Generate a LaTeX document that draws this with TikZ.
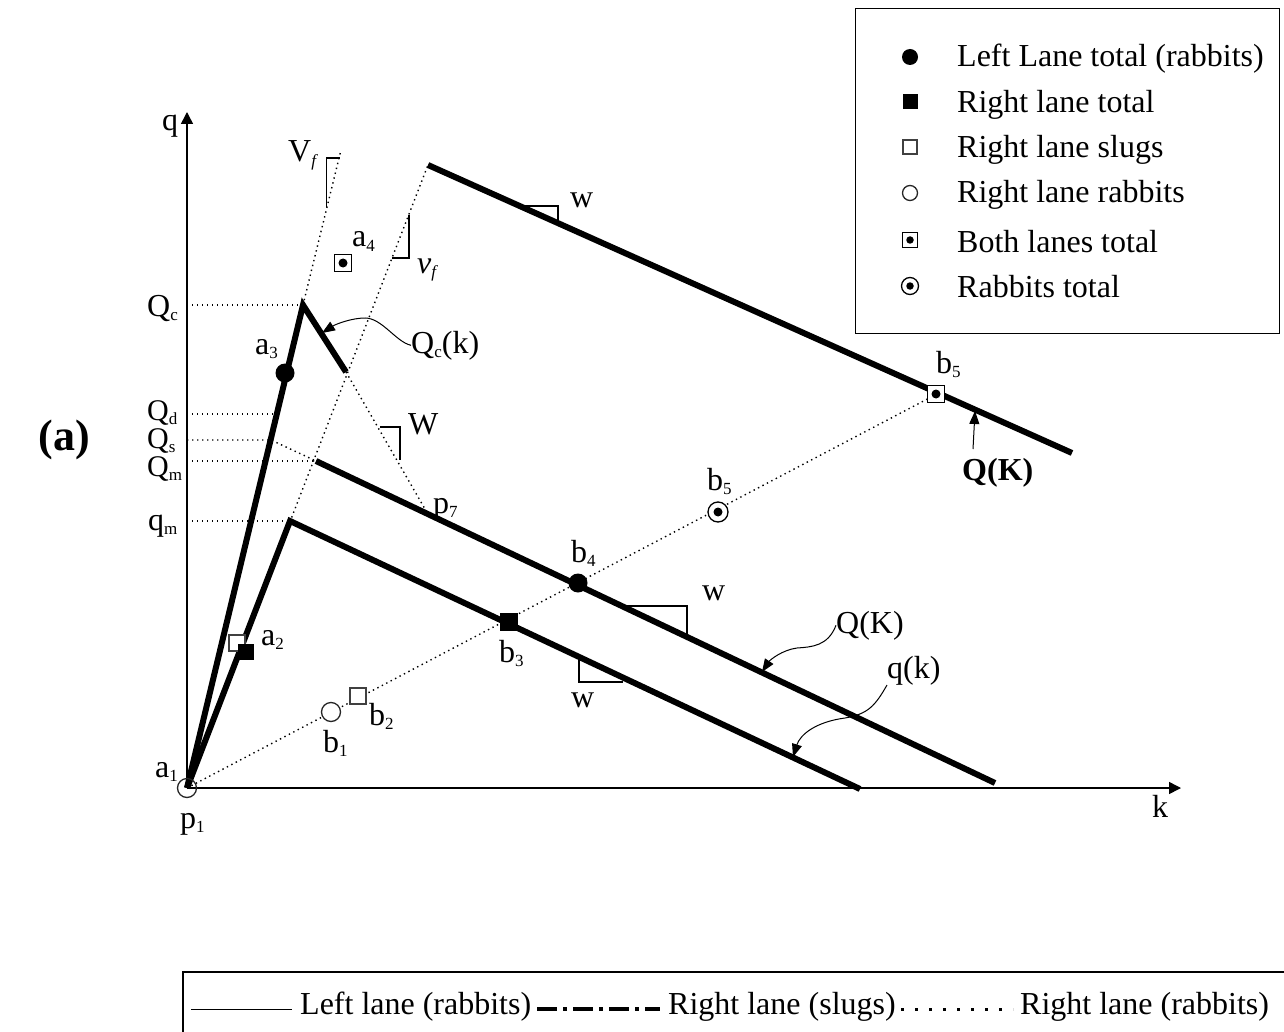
\documentclass[tikz,border=0pt]{standalone}
\usepackage{fontspec}
\setmainfont{Liberation Serif}
\usetikzlibrary{arrows.meta}
\newcommand\sbs[1]{\raisebox{-4.5pt}{\fontsize{17}{17}\selectfont #1}}
\begin{document}
\begin{tikzpicture}[x=1pt,y=-1pt,
  every node/.style={font=\fontsize{32}{38}\selectfont, inner sep=0pt},
  thickl/.style={line width=6pt, line join=miter, line cap=butt},
  axisl/.style={line width=1.5pt, -{Triangle[length=12pt,width=12pt]}},
  dotl/.style={line width=1.4pt, dash pattern=on 1.4pt off 3.6pt},
  thinl/.style={line width=1.2pt},
  annot/.style={line width=1pt, -{Triangle[length=13pt,width=10pt]}},
  fcirc/.style={circle, fill=black, minimum size=19pt},
  fsq/.style={rectangle, fill=black, minimum size=18pt},
  osq/.style={rectangle, draw=black!75, line width=1.3pt, fill=white, minimum size=16pt},
  ocirc/.style={circle, draw=black!85, line width=1.3pt, minimum size=19pt},
  bothsq/.style={rectangle, draw, line width=1.3pt, fill=white, minimum size=17pt},
  rabcirc/.style={circle, draw, line width=1.3pt, fill=white, minimum size=20pt},
  innerdot/.style={circle, fill=black, minimum size=9pt},
  lbl/.style={anchor=base west},
  qlbl/.style={anchor=base west, font=\fontsize{30}{36}\selectfont}
]
\useasboundingbox (0,0) rectangle (1284,1032);

% key points
\coordinate (O) at (187,788);
\coordinate (Qc) at (303,305);
\coordinate (Qce) at (346,372);
\coordinate (qm) at (290,521);
\coordinate (qe) at (860,789);
\coordinate (Qm) at (316,461);
\coordinate (Qe) at (995,783);
\coordinate (Tt) at (428,165);
\coordinate (Te) at (1072,453);
\coordinate (Vt) at (341,150);
\coordinate (Qs) at (271,440);
\coordinate (Qd) at (277,414);
\coordinate (P7) at (425,509);
\coordinate (B5) at (935,395);
\coordinate (kx) at (1181,788);
\coordinate (qy) at (187,112);

% dotted construction lines
\draw[dotl] (O |- Qc) -- (Qc);
\draw[dotl] (O |- Qd) -- (Qd);
\draw[dotl] (O |- Qs) -- (Qs) -- (Qm);
\draw[dotl] (O |- Qm) -- (Qm);
\draw[dotl] (O |- qm) -- (qm);
\draw[dotl] (Qc) -- (Vt);
\draw[dotl] (O) -- (Tt);
\draw[dotl] (Qce) -- (P7);
\draw[dotl] (O) -- (B5);

% axes
\draw[axisl] (O) -- (kx);
\draw[axisl] (O) -- (qy);

% thick curves
\draw[thickl] (O) -- (Qc) -- (Qce);
\draw[thickl] (O) -- (qm) -- (qe);
\draw[thickl] (Qm) -- (Qe);
\draw[thickl] (Tt) -- (Te);

% slope marks
\draw[thinl] (326.5,207) -- (326.5,158) -- (340,158);
\draw[thinl] (392,258) -- (409,258) -- (409,215);
\draw[thinl] (380,427) -- (400,427) -- (400,460);
\draw[thinl] (525,206) -- (558,206) -- (558,221);
\draw[thinl] (627,606) -- (687,606) -- (687,635);
\draw[thinl] (579,658) -- (579,682) -- (623,682);

% markers
\node[fcirc] (a3) at (285,373) {};
\node[osq] (a2o) at (237,643) {};
\node[fsq, minimum size=16pt] (a2) at (246,652) {};
\node[ocirc, fill=white] (b1) at (331,712) {};
\node[osq] (b2) at (358,696) {};
\node[fsq] (b3) at (509,622) {};
\node[fcirc] (b4) at (578,583) {};
\node[rabcirc] (b5c) at (718,512) {};
\node[innerdot] (b5cd) at (b5c) {};
\node[bothsq] (b5s) at (936,394) {};
\node[innerdot] (b5sd) at (b5s) {};
\node[bothsq] (a4) at (343,263) {};
\node[innerdot] (a4d) at (a4) {};
\node[ocirc] (p1) at (O) {};

% labels
\node[lbl] (lq) at (162,131) {q};
\node[lbl] (lk) at (1152,817) {k};
\node[lbl] (lVf) at (288,162) {V\sbs{\textit{f}}};
\node[lbl] (lvf) at (417,273) {\textit{v}\sbs{\textit{f}}};
\node[lbl] (la4) at (352,247) {a\sbs{4}};
\node[lbl] (lQc) at (147,316) {Q\sbs{c}};
\node[qlbl] (lQd) at (147,420) {Q\sbs{d}};
\node[qlbl] (lQs) at (147,448) {Q\sbs{s}};
\node[qlbl] (lQm) at (147,476) {Q\sbs{m}};
\node[lbl] (lqm) at (148,530) {q\sbs{m}};
\node[lbl] (la3) at (255,354) {a\sbs{3}};
\node[lbl] (lW) at (408,434) {W};
\node[lbl] (lp7) at (433,513) {p\sbs{7}};
\node[lbl] (lQck) at (411,353) {Q\sbs{c}(k)};
\node[lbl] (la1) at (155,777) {a\sbs{1}};
\node[lbl] (lp1) at (180,828) {p\sbs{1}};
\node[lbl] (la2) at (261,645) {a\sbs{2}};
\node[lbl] (lb1) at (323,752) {b\sbs{1}};
\node[lbl] (lb2) at (369,725) {b\sbs{2}};
\node[lbl] (lb3) at (499,662) {b\sbs{3}};
\node[lbl] (lb4) at (571,562) {b\sbs{4}};
\node[lbl] (lb5c) at (707,490) {b\sbs{5}};
\node[lbl] (lb5s) at (936,373) {b\sbs{5}};
\node[lbl] (lwt) at (570,208) {w};
\node[lbl] (lwm) at (702,600) {w};
\node[lbl] (lwl) at (571,707) {w};
\node[lbl] (lQK) at (836,633) {Q(K)};
\node[lbl] (lqk) at (887,678) {q(k)};
\node[lbl, font=\fontsize{32}{38}\selectfont\bfseries] (lQKb) at (962,480) {Q(K)};
\node[font=\fontsize{44}{50}\selectfont\bfseries] (lab) at (64,440) {(a)};

% annotation leaders
\coordinate (tQck) at (322,333);
\coordinate (tQK) at (762,672);
\coordinate (tqk) at (793,757);
\coordinate (sQKb) at (973,449);
\coordinate (tQKb) at (975,411);
\draw[annot] (lQck.west) .. controls (396,342) and (382,318) .. (365,318)
   .. controls (352,318) and (336,324) .. (tQck);
\draw[annot] (lQK.west) .. controls (828,646) and (812,647) .. (797,648)
   .. controls (782,650) and (770,660) .. (tQK);
\draw[annot] (lqk.south west) .. controls (875,706) and (868,714) .. (845,718)
   .. controls (815,722) and (800,735) .. (tqk);
\draw[annot] (sQKb) -- (tQKb);

% legend (markers)
\node[draw, line width=1.2pt, minimum width=424pt, minimum height=325pt, anchor=north west] (leg) at (855,8) {};
\node[fcirc, minimum size=16pt] (m1) at (910,57) {};
\node[fsq, minimum size=15pt] (m2) at (910,102) {};
\node[osq, minimum size=14pt] (m3) at (910,147) {};
\node[ocirc, minimum size=15pt] (m4) at (910,193) {};
\node[bothsq, minimum size=15pt] (m5) at (910,240) {};
\node[innerdot, minimum size=7.5pt] (m5d) at (m5) {};
\node[rabcirc, minimum size=17pt] (m6) at (910,286) {};
\node[innerdot, minimum size=7.5pt] (m6d) at (m6) {};
\node[lbl] (e1) at (957,67) {Left Lane total (rabbits)};
\node[lbl] (e2) at (957,113) {Right lane total};
\node[lbl] (e3) at (957,158) {Right lane slugs};
\node[lbl] (e4) at (957,203) {Right lane rabbits};
\node[lbl] (e5) at (957,252) {Both lanes total};
\node[lbl] (e6) at (957,297) {Rabbits total};

% legend (lines)
\draw[line width=1.3pt] (183,1034) -- (183,972) -- (1286,972);
\node[lbl] (t1) at (300,1014) {Left lane (rabbits)};
\node[lbl] (t2) at (668,1014) {Right lane (slugs)};
\node[lbl] (t3) at (1020,1014) {Right lane (rabbits)};
\draw[line width=1.3pt] ([xshift=-109pt,yshift=-3pt]t1.west) -- ([xshift=-8pt,yshift=-3pt]t1.west);
\draw[line width=4pt, dash pattern=on 20pt off 6pt on 4pt off 6pt] ([xshift=-131pt,yshift=-3pt]t2.west) -- ([xshift=-8pt,yshift=-3pt]t2.west);
\draw[line width=2.5pt, dash pattern=on 2.5pt off 11.5pt] ([xshift=-119pt,yshift=-3pt]t3.west) -- ([xshift=-7pt,yshift=-3pt]t3.west);
\end{tikzpicture}
\end{document}
